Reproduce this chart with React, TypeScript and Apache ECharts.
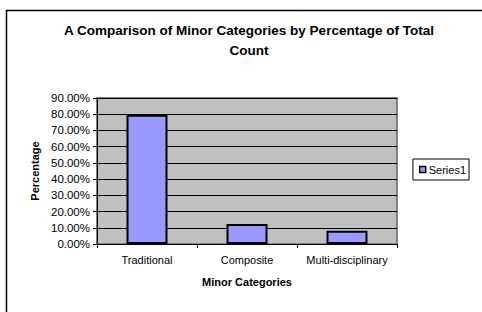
import React, { useEffect, useRef } from "react";
import * as echarts from "echarts";

const categories = ["Traditional", "Composite", "Multi-disciplinary"];
const series1 = [79.6, 12.3, 8.1];
const yMax = 90;
const yInterval = 10;

export default function App() {
  const ref = useRef<HTMLDivElement>(null);
  useEffect(() => {
    const chart = echarts.init(ref.current!, null, { renderer: "svg" });
    const font = "Liberation Sans, Arial, sans-serif";
    chart.setOption({
      animation: false,
      backgroundColor: "#ffffff",
      textStyle: { fontFamily: font },
      title: {
        text: "A Comparison of Minor Categories by Percentage of Total\nCount",
        left: 244,
        textAlign: "center",
        top: 15,
        textStyle: { fontSize: 13.5, fontWeight: "bold", color: "#000", lineHeight: 20, fontFamily: font },
      },
      graphic: [
        {
          type: "rect",
          shape: { x: 6.5, y: 10.5, width: 500, height: 400 },
          style: { fill: "none", stroke: "#000", lineWidth: 1.5 },
          silent: true,
          z: -10,
        },
      ],
      legend: {
        right: 13,
        top: 159,
        orient: "vertical",
        icon: "rect",
        itemWidth: 6,
        itemHeight: 6,
        itemGap: 4,
        padding: [5, 3, 5, 6],
        borderColor: "#000",
        borderWidth: 1,
        textStyle: { fontSize: 11, color: "#000", padding: [0, 0, 0, -2], fontFamily: font },
        data: [{ name: "Series1", itemStyle: { color: "#9999FF", borderColor: "#000", borderWidth: 1.5 } }],
      },
      grid: {
        left: 97,
        right: 85,
        top: 98,
        bottom: 68,
        show: true,
        backgroundColor: "#C0C0C0",
        borderColor: "#808080",
        borderWidth: 2,
      },
      xAxis: {
        type: "category",
        data: categories,
        name: "Minor Categories",
        nameLocation: "middle",
        nameGap: 32,
        nameTextStyle: { fontSize: 11, fontWeight: "bold", color: "#000", fontFamily: font },
        axisLine: { lineStyle: { color: "#000", width: 1 } },
        axisTick: { show: true, alignWithLabel: false, interval: 0, length: 4, lineStyle: { color: "#000" } },
        axisLabel: { fontSize: 11, color: "#000", margin: 10, interval: 0, fontFamily: font },
      },
      yAxis: {
        type: "value",
        min: 0,
        max: yMax,
        interval: yInterval,
        name: "Percentage",
        nameLocation: "middle",
        nameGap: 53,
        nameRotate: 90,
        nameTextStyle: { fontSize: 11, fontWeight: "bold", color: "#000", fontFamily: font },
        axisLine: { show: true, lineStyle: { color: "#000", width: 1 } },
        axisTick: { show: true, length: 4, lineStyle: { color: "#000" } },
        axisLabel: {
          fontSize: 11.5,
          color: "#000",
          margin: 7,
          fontFamily: font,
          formatter: (v: number) => v.toFixed(2) + "%",
        },
        splitLine: { show: true, lineStyle: { color: "#000", width: 1 } },
      },
      series: [
        {
          name: "Series1",
          type: "bar",
          data: series1,
          barWidth: "41%",
          itemStyle: { color: "#9999FF", borderColor: "#000", borderWidth: 2 },
        },
      ],
    });
    return () => chart.dispose();
  }, []);
  return (
    <div
      ref={ref}
      style={{ position: "absolute", left: 0, top: 0, width: 482, height: 312 }}
    />
  );
}
